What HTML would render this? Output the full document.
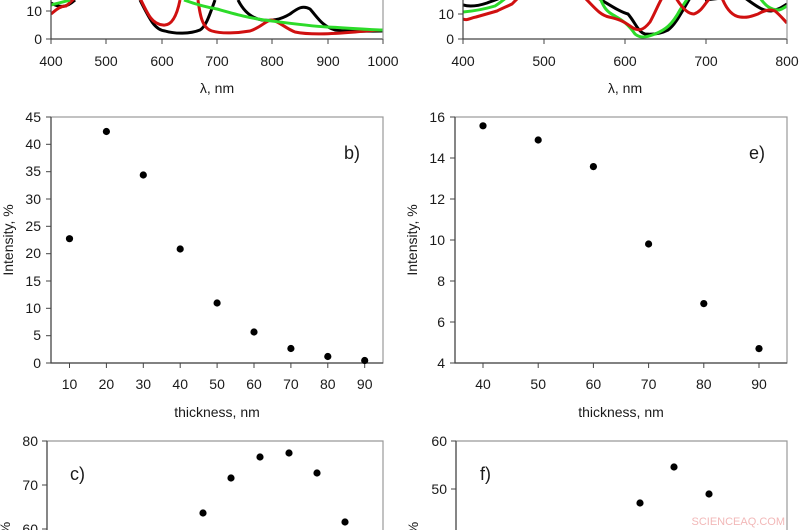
<!DOCTYPE html>
<html><head><meta charset="utf-8"><style>
html,body{margin:0;padding:0;background:#fff;}
svg{display:block;font-family:"Liberation Sans",sans-serif;}
text{fill:#1a1a1a;font-size:14px;}
.ax{stroke:#444;stroke-width:1.2;fill:none}
.bx{stroke:#999;stroke-width:1.2;fill:none}
.tk{stroke:#444;stroke-width:1}
circle{r:3.6}
</style></head><body>
<svg width="800" height="530" viewBox="0 0 800 530">
<!-- Panel a -->
<g>
<clipPath id="ca"><rect x="51" y="0" width="332" height="39"/></clipPath>
<g clip-path="url(#ca)" fill="none" stroke-width="3" stroke-linejoin="round">
<path stroke="#000" d="M51,3 C60,8 66,8 75,0 M140,0 C150,20 155,30 165,31 C175,34 190,34 200,30 C205,27 208,20 215,0 M238,0 C243,10 250,18 262,20 C272,21 280,20 290,14 C298,8 303,5 310,9 C318,18 322,26 335,30 C350,32 365,31 383,31"/>
<path stroke="#d01010" d="M51,14 C56,10 60,6 66,6 C70,3 72,0 75,-2 M140,-2 C148,15 152,24 163,25 C170,26 176,20 180,0 M198,0 C200,15 202,28 212,31 C222,34 238,33 250,31 C262,27 266,20 272,20 C280,22 285,28 295,32 C310,35 330,34 355,32 C368,31 376,30 383,30"/>
<path stroke="#2ddb2a" d="M51,5 C58,3 64,2 70,0 M184,0 C195,4 205,7 217,9 C235,14 252,19 272,21 C295,24 310,26 327,27 C350,28 370,30 383,30"/>
</g>
<polyline class="ax" points="51,0 51,39 383,39"/>
<line class="bx" x1="383" y1="0" x2="383" y2="39"/>
<g class="tk">
<line x1="46" y1="11" x2="51" y2="11"/><line x1="46" y1="39" x2="51" y2="39"/>
<line x1="51" y1="39" x2="51" y2="44"/><line x1="106" y1="39" x2="106" y2="44"/><line x1="162" y1="39" x2="162" y2="44"/><line x1="217" y1="39" x2="217" y2="44"/><line x1="272" y1="39" x2="272" y2="44"/><line x1="328" y1="39" x2="328" y2="44"/><line x1="383" y1="39" x2="383" y2="44"/>
</g>
<text x="42" y="16" text-anchor="end">10</text><text x="42" y="44" text-anchor="end">0</text>
<g text-anchor="middle"><text x="51" y="66">400</text><text x="106" y="66">500</text><text x="162" y="66">600</text><text x="217" y="66">700</text><text x="272" y="66">800</text><text x="328" y="66">900</text><text x="383" y="66">1000</text>
<text x="217" y="93">λ, nm</text></g>
</g>
<!-- Panel d -->
<g>
<clipPath id="cd"><rect x="463" y="0" width="324" height="39"/></clipPath>
<g clip-path="url(#cd)" fill="none" stroke-width="3" stroke-linejoin="round">
<path stroke="#000" d="M463,5 C470,7 478,6 487,3 C492,1 496,0 500,-2 M598,-2 C610,5 620,12 628,14 C635,22 638,32 645,34 C655,35 662,33 668,30 C675,25 680,15 690,-2 M705,0 L722,-2 M745,-2 C755,5 762,11 771,11 C778,10 782,7 787,4"/>
<path stroke="#2ddb2a" d="M463,12 C475,11 485,9 495,6 C500,3 503,0 506,-2 M600,-2 C604,8 607,12 615,16 C622,20 628,24 635,34 C640,38 645,38 655,34 C665,30 672,25 680,10 L688,-2 M760,-2 C765,5 770,10 779,10 C783,9 785,7 787,6"/>
<path stroke="#d01010" d="M463,19 C467,21 470,18 476,17 C483,15 490,13 497,11 C503,8 508,6 512,4 C514,2 516,0 518,-2 M585,-2 C595,8 600,15 609,17 C617,19 622,20 630,26 C638,32 643,31 650,22 C654,15 658,5 662,-2 M676,-2 C682,8 688,14 694,14 C700,12 703,7 706,3 L710,-2 M722,-2 C726,8 732,16 740,17 C748,18 752,16 758,14 C765,10 770,9 775,11 C780,15 784,20 787,23"/>
</g>
<polyline class="ax" points="463,0 463,39 787,39"/>
<line class="bx" x1="787" y1="0" x2="787" y2="39"/>
<g class="tk">
<line x1="458" y1="14" x2="463" y2="14"/><line x1="458" y1="39" x2="463" y2="39"/>
<line x1="463" y1="39" x2="463" y2="44"/><line x1="544" y1="39" x2="544" y2="44"/><line x1="625" y1="39" x2="625" y2="44"/><line x1="706" y1="39" x2="706" y2="44"/><line x1="787" y1="39" x2="787" y2="44"/>
</g>
<text x="454" y="19" text-anchor="end">10</text><text x="454" y="44" text-anchor="end">0</text>
<g text-anchor="middle"><text x="463" y="66">400</text><text x="544" y="66">500</text><text x="625" y="66">600</text><text x="706" y="66">700</text><text x="787" y="66">800</text>
<text x="625" y="93">λ, nm</text></g>
</g>
<!-- Panel b -->
<g>
<rect class="bx" x="51" y="117" width="332" height="246"/>
<polyline class="ax" points="51,117 51,363 383,363"/>
<g class="tk">
<line x1="46" y1="117" x2="51" y2="117"/><line x1="46" y1="144.3" x2="51" y2="144.3"/><line x1="46" y1="171.7" x2="51" y2="171.7"/><line x1="46" y1="199" x2="51" y2="199"/><line x1="46" y1="226.3" x2="51" y2="226.3"/><line x1="46" y1="253.7" x2="51" y2="253.7"/><line x1="46" y1="281" x2="51" y2="281"/><line x1="46" y1="308.3" x2="51" y2="308.3"/><line x1="46" y1="335.7" x2="51" y2="335.7"/><line x1="46" y1="363" x2="51" y2="363"/>
<line x1="69.5" y1="363" x2="69.5" y2="368"/><line x1="106.4" y1="363" x2="106.4" y2="368"/><line x1="143.3" y1="363" x2="143.3" y2="368"/><line x1="180.2" y1="363" x2="180.2" y2="368"/><line x1="217.1" y1="363" x2="217.1" y2="368"/><line x1="254" y1="363" x2="254" y2="368"/><line x1="290.9" y1="363" x2="290.9" y2="368"/><line x1="327.8" y1="363" x2="327.8" y2="368"/><line x1="364.7" y1="363" x2="364.7" y2="368"/>
</g>
<g text-anchor="end"><text x="41" y="122">45</text><text x="41" y="149">40</text><text x="41" y="176">35</text><text x="41" y="204">30</text><text x="41" y="231">25</text><text x="41" y="258">20</text><text x="41" y="286">15</text><text x="41" y="313">10</text><text x="41" y="340">5</text><text x="41" y="368">0</text></g>
<g text-anchor="middle"><text x="69.5" y="389">10</text><text x="106.4" y="389">20</text><text x="143.3" y="389">30</text><text x="180.2" y="389">40</text><text x="217.1" y="389">50</text><text x="254" y="389">60</text><text x="290.9" y="389">70</text><text x="327.8" y="389">80</text><text x="364.7" y="389">90</text>
<text x="217" y="417">thickness, nm</text></g>
<text transform="translate(13,240) rotate(-90)" text-anchor="middle">Intensity, %</text>
<text x="344" y="159" style="font-size:18px">b)</text>
<g fill="#000"><circle cx="69.5" cy="238.7" r="3.6"/><circle cx="106.4" cy="131.5" r="3.6"/><circle cx="143.3" cy="175" r="3.6"/><circle cx="180.2" cy="249" r="3.6"/><circle cx="217.1" cy="303" r="3.6"/><circle cx="254" cy="332" r="3.6"/><circle cx="290.9" cy="348.5" r="3.6"/><circle cx="327.8" cy="356.5" r="3.6"/><circle cx="364.7" cy="360.5" r="3.6"/></g>
</g>
<!-- Panel e -->
<g>
<rect class="bx" x="455" y="117" width="332" height="246"/>
<polyline class="ax" points="455,117 455,363 787,363"/>
<g class="tk">
<line x1="450" y1="117" x2="455" y2="117"/><line x1="450" y1="158" x2="455" y2="158"/><line x1="450" y1="199" x2="455" y2="199"/><line x1="450" y1="240" x2="455" y2="240"/><line x1="450" y1="281" x2="455" y2="281"/><line x1="450" y1="322" x2="455" y2="322"/><line x1="450" y1="363" x2="455" y2="363"/>
<line x1="483" y1="363" x2="483" y2="368"/><line x1="538.2" y1="363" x2="538.2" y2="368"/><line x1="593.4" y1="363" x2="593.4" y2="368"/><line x1="648.6" y1="363" x2="648.6" y2="368"/><line x1="703.8" y1="363" x2="703.8" y2="368"/><line x1="759" y1="363" x2="759" y2="368"/>
</g>
<g text-anchor="end"><text x="445" y="122">16</text><text x="445" y="163">14</text><text x="445" y="204">12</text><text x="445" y="245">10</text><text x="445" y="286">8</text><text x="445" y="327">6</text><text x="445" y="368">4</text></g>
<g text-anchor="middle"><text x="483" y="389">40</text><text x="538.2" y="389">50</text><text x="593.4" y="389">60</text><text x="648.6" y="389">70</text><text x="703.8" y="389">80</text><text x="759" y="389">90</text>
<text x="621" y="417">thickness, nm</text></g>
<text transform="translate(417,240) rotate(-90)" text-anchor="middle">Intensity, %</text>
<text x="749" y="159" style="font-size:18px">e)</text>
<g fill="#000"><circle cx="483" cy="125.8" r="3.6"/><circle cx="538.2" cy="140" r="3.6"/><circle cx="593.4" cy="166.6" r="3.6"/><circle cx="648.6" cy="244" r="3.6"/><circle cx="703.8" cy="303.6" r="3.6"/><circle cx="759" cy="348.6" r="3.6"/></g>
</g>
<!-- Panel c -->
<g>
<polyline class="bx" points="47,530 47,441 383,441 383,530"/>
<line class="ax" x1="47" y1="441" x2="47" y2="530"/>
<g class="tk"><line x1="42" y1="441" x2="47" y2="441"/><line x1="42" y1="485" x2="47" y2="485"/><line x1="42" y1="529" x2="47" y2="529"/></g>
<g text-anchor="end"><text x="38" y="446">80</text><text x="38" y="490">70</text><text x="38" y="534">60</text></g>
<text x="70" y="480" style="font-size:18px">c)</text>
<text transform="translate(10,528) rotate(-90)" text-anchor="middle">%</text>
<g fill="#000"><circle cx="203" cy="513" r="3.6"/><circle cx="231" cy="478" r="3.6"/><circle cx="260" cy="457" r="3.6"/><circle cx="289" cy="453" r="3.6"/><circle cx="317" cy="473" r="3.6"/><circle cx="345" cy="522" r="3.6"/></g>
</g>
<!-- Panel f -->
<g>
<polyline class="bx" points="456,530 456,441 787,441 787,530"/>
<line class="ax" x1="456" y1="441" x2="456" y2="530"/>
<g class="tk"><line x1="451" y1="441" x2="456" y2="441"/><line x1="451" y1="489" x2="456" y2="489"/></g>
<g text-anchor="end"><text x="447" y="446">60</text><text x="447" y="494">50</text></g>
<text x="480" y="480" style="font-size:18px">f)</text>
<text transform="translate(418,528) rotate(-90)" text-anchor="middle">%</text>
<g fill="#000"><circle cx="640" cy="503" r="3.6"/><circle cx="674" cy="467" r="3.6"/><circle cx="709" cy="494" r="3.6"/></g>
<text x="785" y="525" text-anchor="end" style="font-size:11px;fill:#f2b8b8">SCIENCEAQ.COM</text>
</g>
</svg>
</body></html>
